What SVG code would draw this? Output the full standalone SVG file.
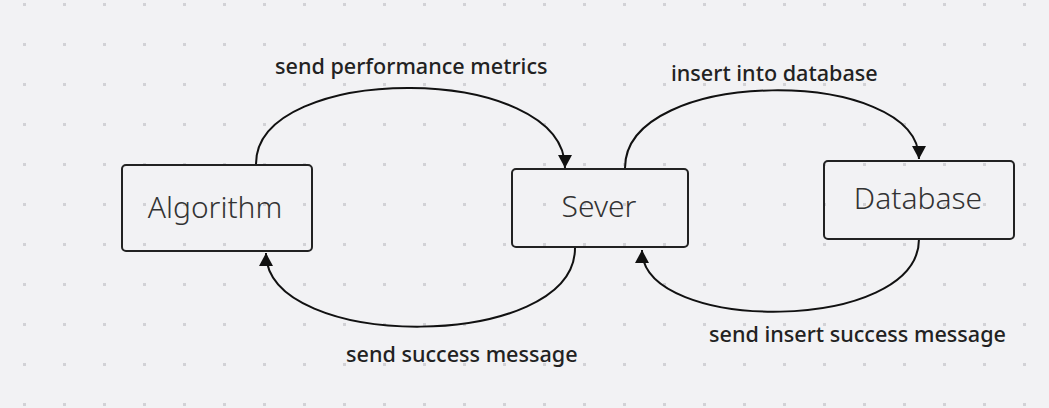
<svg xmlns="http://www.w3.org/2000/svg" width="1049" height="408" viewBox="0 0 1049 408">
  <defs>
    <pattern id="dots" x="0" y="0" width="40" height="40" patternUnits="userSpaceOnUse">
      <rect x="23" y="3" width="3" height="3" fill="#d2d2d6"/>
    </pattern>
    <marker id="arrow" viewBox="0 0 13 14" refX="13" refY="7" markerWidth="13" markerHeight="14" markerUnits="userSpaceOnUse" orient="auto">
      <path d="M0,0 L13,7 L0,14 z" fill="#111"/>
    </marker>
    <style>
      .box { fill: none; stroke: #222; stroke-width: 2; }
      .node-text { font-family: "Noto Sans", "Open Sans", sans-serif; font-size: 30px; font-weight: 350; fill: #333; text-anchor: middle; }
      .edge { fill: none; stroke: #111; stroke-width: 2; marker-end: url(#arrow); }
      .label { font-family: "Noto Sans", "Open Sans", sans-serif; font-size: 21.6px; font-weight: 500; fill: #222; }
    </style>
  </defs>
  <rect x="0" y="0" width="1049" height="408" fill="#f2f2f4"/>
  <rect x="0" y="0" width="1049" height="408" fill="url(#dots)"/>

  <g id="connectors">
    <path class="edge" d="M256,164 C256,62 565,62 565,168"/>
    <path class="edge" d="M625,168 C625,66 919,66 919,159"/>
    <path class="edge" d="M575,248 C575,352 266,352 266,253"/>
    <path class="edge" d="M919,239 C919,334 642,334 642,250"/>
    <text class="label" x="275" y="74">send performance metrics</text>
    <text class="label" x="671" y="81">insert into database</text>
    <text class="label" x="346" y="362">send success message</text>
    <text class="label" x="709" y="342">send insert success message</text>
  </g>

  <g id="algorithm">
    <rect class="box" x="122" y="165" width="190" height="86" rx="4"/>
    <text class="node-text" x="215" y="218">Algorithm</text>
  </g>
  <g id="sever">
    <rect class="box" x="512" y="169" width="176" height="78" rx="4"/>
    <text class="node-text" x="599" y="217">Sever</text>
  </g>
  <g id="database">
    <rect class="box" x="824" y="161" width="190" height="78" rx="4"/>
    <text class="node-text" x="918" y="209">Database</text>
  </g>
</svg>
